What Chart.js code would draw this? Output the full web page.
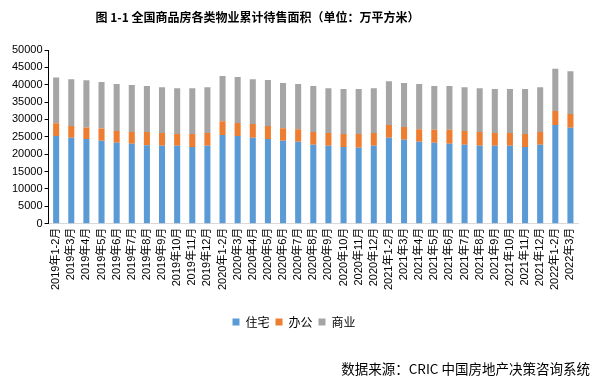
<!DOCTYPE html>
<html><head><meta charset="utf-8">
<script src="https://cdn.jsdelivr.net/npm/chart.js@4/dist/chart.umd.min.js"></script>
<style>
html,body{margin:0;padding:0;background:#fff;}
#wrap{position:relative;width:600px;height:383px;}
#title{position:absolute;left:0;width:515px;top:8px;text-align:center;font:bold 12px "Noto Sans CJK SC",sans-serif;color:#000;}
#src{position:absolute;right:10px;top:358px;font:13.5px "Noto Sans CJK SC",sans-serif;color:#000;}
</style></head>
<body><div id="wrap">
<canvas id="c" width="600" height="383"></canvas>
<div id="title">图 1-1 全国商品房各类物业累计待售面积（单位：万平方米）</div>
<div id="src">数据来源：CRIC 中国房地产决策咨询系统</div>
</div>
<script>
const categories = ["2019年1-2月","2019年3月","2019年4月","2019年5月","2019年6月","2019年7月","2019年8月","2019年9月","2019年10月","2019年11月","2019年12月",
"2020年1-2月","2020年3月","2020年4月","2020年5月","2020年6月","2020年7月","2020年8月","2020年9月","2020年10月","2020年11月","2020年12月",
"2021年1-2月","2021年3月","2021年4月","2021年5月","2021年6月","2021年7月","2021年8月","2021年9月","2021年10月","2021年11月","2021年12月",
"2022年1-2月","2022年3月"];
const residential = [25200,24700,24350,23900,23300,23000,22600,22400,22400,22100,22400,
25500,25200,24700,24350,23900,23600,22700,22400,22100,21850,22400,
24700,24150,23600,23300,23000,22700,22400,22400,22400,22100,22700,
28400,27600];
const office = [3700,3400,3350,3500,3400,3400,3800,3700,3400,3700,3700,
4000,3800,4000,3750,3600,3600,3700,3700,3700,3950,3700,
3700,3650,3600,3700,4000,4000,4000,3700,3700,3700,3700,
4000,4000];
const commercial = [13200,13500,13600,13400,13500,13500,13200,13200,13200,13200,13200,
13000,13200,12900,13250,13000,13000,13200,12900,12950,12950,12900,
12600,12700,13000,12600,12600,12600,12600,12650,12650,12950,12900,
12200,12300];
const seriesNames = ["住宅","办公","商业"];
const yTicks = {min:0,max:50000,step:5000};

Chart.defaults.font.family = '"Liberation Sans","Noto Sans CJK SC",sans-serif';
Chart.defaults.color = '#000';
new Chart(document.getElementById('c'), {
  type:'bar',
  data:{labels:categories,datasets:[
    {label:seriesNames[0],data:residential,backgroundColor:'#5B9BD5'},
    {label:seriesNames[1],data:office,backgroundColor:'#ED7D31'},
    {label:seriesNames[2],data:commercial,backgroundColor:'#A5A5A5'}
  ]},
  options:{
    responsive:false,animation:false,
    datasets:{bar:{barPercentage:0.4,categoryPercentage:1}},
    layout:{padding:{left:10,right:22,top:50,bottom:45}},
    plugins:{
      legend:{position:'bottom',labels:{boxWidth:7,boxHeight:7,padding:6,font:{size:12,family:'"Noto Sans CJK SC",sans-serif'}}},
      tooltip:{enabled:false}
    },
    scales:{
      x:{stacked:true,
        afterFit:s=>{s.height+=16;},
        grid:{display:true,drawOnChartArea:false,drawTicks:false,color:'#d9d9d9'},
        border:{color:'#d9d9d9'},
        ticks:{minRotation:90,maxRotation:90,autoSkip:false,padding:4,font:{size:11}}},
      y:{stacked:true,min:yTicks.min,max:yTicks.max,
        grid:{display:true,drawOnChartArea:false,tickLength:4,color:'#000'},
        border:{color:'#000'},
        ticks:{stepSize:yTicks.step,padding:2,font:{size:11},callback:v=>String(v)}}
    }
  }
});
</script>
</body></html>
